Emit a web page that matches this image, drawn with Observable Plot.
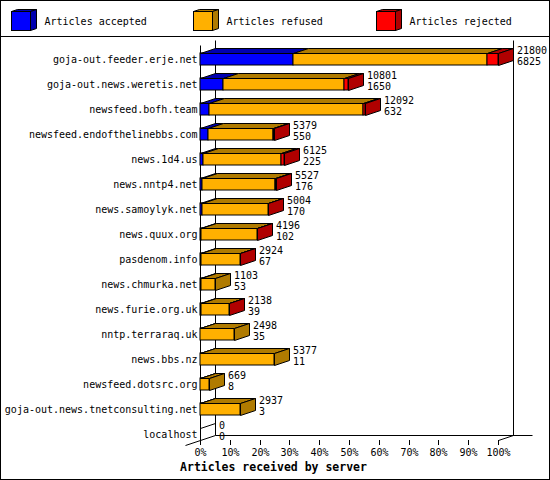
<!DOCTYPE html>
<html>
<head>
<meta charset="utf-8">
<script src="https://cdn.jsdelivr.net/npm/d3@7"></script>
<script src="https://cdn.jsdelivr.net/npm/@observablehq/plot@0.6"></script>
<style>
  html, body { margin: 0; padding: 0; background: #fff; }
  #frame { position: absolute; left: 0; top: 0; width: 550px; height: 480px; border: 1px solid #000; box-sizing: border-box; background: #fff; overflow: hidden; }
  #legend { height: 35px; border-bottom: 1px solid #000; }
  #legend svg, #chart svg { display: block; overflow: visible; }
  #caption { height: 20px; line-height: 20px; padding-top: 3px; text-align: center; padding-right: 3px; font: bold 11.5px "DejaVu Sans Mono", monospace; color: #000; white-space: pre; }
</style>
</head>
<body>
<div id="frame">
  <div id="legend"></div>
  <div id="chart"></div>
  <div id="caption">Articles received by server</div>
</div>
<script>
// ---- data ----
const hosts = [
  "goja-out.feeder.erje.net",
  "goja-out.news.weretis.net",
  "newsfeed.bofh.team",
  "newsfeed.endofthelinebbs.com",
  "news.1d4.us",
  "news.nntp4.net",
  "news.samoylyk.net",
  "news.quux.org",
  "pasdenom.info",
  "news.chmurka.net",
  "news.furie.org.uk",
  "nntp.terraraq.uk",
  "news.bbs.nz",
  "newsfeed.dotsrc.org",
  "goja-out.news.tnetconsulting.net",
  "localhost"
];
const totals   = [21800, 10801, 12092, 5379, 6125, 5527, 5004, 4196, 2924, 1103, 2138, 2498, 5377, 669, 2937, 0];
const accepted = [6825, 1650, 632, 550, 225, 176, 170, 102, 67, 53, 39, 35, 11, 8, 3, 0];
const refused  = [14195, 8901, 11280, 4799, 5680, 5321, 4804, 4074, 2837, 1050, 2084, 2463, 5366, 661, 2934, 0];
const rejected = [780, 250, 180, 30, 220, 30, 30, 20, 20, 0, 15, 0, 0, 0, 0, 0];

const seriesKeys  = ["accepted", "refused", "rejected"];
const seriesNames = ["Articles accepted", "Articles refused", "Articles rejected"];
const xTicks = [0, 10, 20, 30, 40, 50, 60, 70, 80, 90, 100];

// ---- styles ----
const MONO = "'DejaVu Sans Mono', monospace";
const frontColors = ["#0000ff", "#ffb000", "#ff0000"];
const darkColors  = ["#0000b0", "#b07b00", "#b00000"];
const DX = 15, DY = 5;

// ---- derived table ----
const maxTotal = d3.max(totals);
const pct = v => v / maxTotal * 100;
const series = [accepted, refused, rejected];
const rows = hosts.map((h, i) => ({host: h, total: totals[i], acc: accepted[i]}));
const segs = [];
hosts.forEach((h, i) => {
  let c = 0;
  seriesKeys.forEach((k, j) => {
    const v = series[j][i];
    segs.push({host: h, series: k, j, v, total: totals[i], x1: pct(c), x2: pct(c + v)});
    c += v;
  });
});

// ---- legend ----
{
  const lg = d3.select("#legend").append("svg").attr("width", 548).attr("height", 35);
  const pos = [10, 192, 375];
  seriesKeys.forEach((k, j) => {
    const g = lg.append("g").attr("transform", `translate(${pos[j] + 0.5},${10.5})`);
    const s = 19, d = 6, e = 2;
    g.append("polygon").attr("points", `0,0 ${d},${-e} ${s + d},${-e} ${s},0`).attr("fill", darkColors[j]).attr("stroke", "#000");
    g.append("polygon").attr("points", `${s},0 ${s + d},${-e} ${s + d},${s - e} ${s},${s}`).attr("fill", darkColors[j]).attr("stroke", "#000");
    g.append("rect").attr("width", s).attr("height", s).attr("fill", frontColors[j]).attr("stroke", "#000");
    lg.append("text").attr("x", pos[j] + 33.5).attr("y", 20).attr("dy", "0.35em")
      .attr("font-family", MONO).attr("font-size", 10).attr("fill", "#000").text(seriesNames[j]);
  });
}

// ---- custom 3D pieces drawn through Plot's scales ----
function walls(index, scales, values, dim) {
  const {x} = scales;
  const top = dim.marginTop, bottom = dim.height - dim.marginBottom;
  const x0 = x(0), x1 = x(100);
  const g = d3.create("svg:g").attr("transform", "translate(0.5,0.5)").attr("stroke", "#000").attr("fill", "none");
  const L = [
    [x0 + DX, top, x0 + DX, bottom - DY],
    [x1 + DX, top, x1 + DX, bottom - DY],
    [x0 + DX, bottom - DY, x1 + DX + 19, bottom - DY],
    [x0 - DX, bottom + DY, x0 + DX, bottom - DY],
    [x1, bottom, x1 + DX, bottom - DY],
    [x0, top + DY, x0, bottom]
  ];
  for (const [a, b, c, d] of L) g.append("line").attr("x1", a).attr("y1", b).attr("x2", c).attr("y2", d);
  return g.node();
}

function faces(index, scales, values, dim) {
  const {x, y} = scales;
  const step = y(hosts[1]) - y(hosts[0]);
  const g = d3.create("svg:g").attr("transform", "translate(0.5,0.5)").attr("stroke", "#000").attr("stroke-linejoin", "miter");
  // top faces
  for (const s of segs) {
    const yT = y(s.host) + 13, a = x(s.x1), b = x(s.x2);
    if (s.v > 0) {
      g.append("polygon").attr("points", `${a},${yT} ${b},${yT} ${b + DX},${yT - DY} ${a + DX},${yT - DY}`).attr("fill", darkColors[s.j]);
    } else if (s.total === 0 && s.j === 0) {
      g.append("line").attr("x1", a).attr("y1", yT).attr("x2", a + DX).attr("y2", yT - DY);
    }
  }
  // side face at end of each bar
  for (const h of hosts) {
    const ss = segs.filter(s => s.host === h && s.v > 0);
    if (!ss.length) continue;
    const s = ss[ss.length - 1];
    const yT = y(h) + 13, yB = y(h) + step, b = x(s.x2);
    g.append("polygon").attr("points", `${b},${yT} ${b + DX},${yT - DY} ${b + DX},${yB - DY} ${b},${yB}`).attr("fill", darkColors[s.j]);
  }
  return g.node();
}

const chart = Plot.plot({
  width: 548,
  height: 420,
  marginLeft: 199,
  marginRight: 51,
  marginTop: 3,
  marginBottom: 17,
  style: {fontFamily: MONO, fontSize: "10px", background: "transparent", overflow: "visible", color: "#000"},
  x: {domain: [0, 100], round: true},
  y: {domain: hosts, padding: 0, round: true},
  color: {domain: seriesKeys, range: frontColors},
  marks: [
    walls,
    Plot.barX(segs.filter(s => s.v > 0), {x1: "x1", x2: "x2", y: "host", fill: "series", stroke: "#000", strokeWidth: 1, insetTop: 13, insetBottom: 0}),
    faces,
    Plot.text(rows, {
      x: d => pct(d.total), y: "host", text: d => `${d.total}\n${d.acc}`,
      textAnchor: "start", lineAnchor: "middle", lineHeight: 1.08,
      dx: 18.5, dy: 2.7, fontFamily: MONO, fontSize: 10, fill: "#000"
    }),
    Plot.axisY({tickSize: 0, tickPadding: 3, dy: 6.5, label: null, fontSize: 10, fontFamily: MONO}),
    Plot.axisX({ticks: xTicks, tickFormat: d => d + "%", tickSize: 5, tickPadding: 3, label: null, fontSize: 10, fontFamily: MONO})
  ]
});
document.getElementById("chart").appendChild(chart);
</script>
</body>
</html>
